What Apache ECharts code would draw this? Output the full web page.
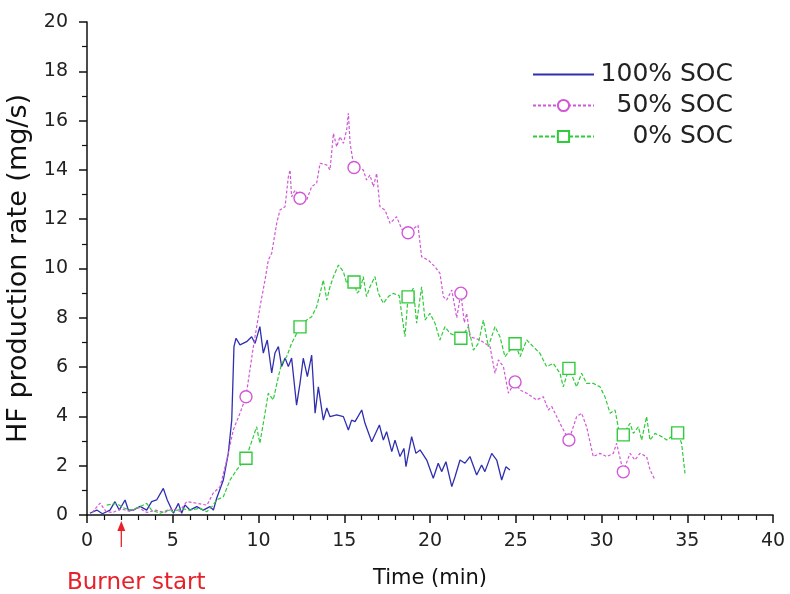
<!DOCTYPE html>
<html>
<head>
<meta charset="utf-8">
<script src="https://cdn.jsdelivr.net/npm/echarts@6/dist/echarts.min.js"></script>
<style>
html, body { margin: 0; padding: 0; background: #fff; }
#chart { width: 790px; height: 594px; }
</style>
</head>
<body>
<div id="chart"></div>
<script>
// 100% SOC (solid blue)
var t100 = [0.17,0.57,0.9,1.34,1.63,1.88,2.22,2.41,2.7,3.1,3.48,3.77,4.06,4.45,4.68,5.04,5.33,5.52,5.71,6.0,
  6.4,6.78,7.17,7.37,7.56,7.95,8.24,8.44,8.57,8.69,8.92,9.31,9.6,9.8,10.08,10.28,10.51,10.77,10.96,11.16,
  11.35,11.55,11.74,11.93,12.22,12.42,12.61,12.85,13.1,13.3,13.49,13.78,13.98,14.17,14.56,14.95,15.24,15.43,15.63,16.02,
  16.21,16.6,17.05,17.28,17.47,17.77,17.96,18.25,18.48,18.6,18.93,19.18,19.42,19.81,20.19,20.48,20.68,20.93,21.27,21.46,
  21.75,22.04,22.33,22.72,23.01,23.2,23.6,23.89,24.18,24.43,24.66];
var v100 = [0.07,0.2,0.05,0.2,0.54,0.2,0.61,0.2,0.2,0.35,0.2,0.54,0.61,1.08,0.61,0.07,0.47,0.07,0.41,0.2,
  0.34,0.2,0.34,0.2,0.68,1.42,2.5,3.85,6.83,7.17,6.9,7.03,7.23,6.96,7.64,6.57,7.1,5.76,6.57,6.83,
  6.02,6.37,6.02,6.37,4.46,5.34,6.36,5.61,6.49,4.13,5.2,3.85,4.34,3.99,4.06,3.99,3.45,3.85,3.79,4.26,
  3.72,2.97,3.65,3.04,3.38,2.57,3.04,2.37,2.7,1.96,3.18,2.5,2.64,2.23,1.49,2.1,1.76,2.16,1.15,1.55,
  2.23,2.1,2.37,1.62,2.03,1.76,2.5,2.23,1.42,1.96,1.83];

// 50% SOC (dashed magenta, circles)
var t50 = [0.3,0.76,1.1,1.5,2.0,2.5,3.0,3.5,4.0,4.5,5.0,5.4,5.81,6.2,6.6,7.0,7.35,7.76,8.15,8.53,
  8.92,9.27,9.7,10.09,10.38,10.57,10.77,11.06,11.25,11.55,11.74,11.84,11.93,12.13,12.42,12.81,13.1,13.39,13.59,13.98,
  14.17,14.37,14.56,14.75,14.95,15.14,15.24,15.34,15.57,16.11,16.3,16.5,16.7,16.89,17.08,17.38,17.67,18.05,18.35,18.72,
  19.3,19.51,19.9,20.29,20.58,20.78,20.97,21.27,21.56,21.8,22.0,22.14,22.33,22.92,23.5,23.79,23.99,24.28,24.57,24.96,
  25.25,25.64,26.22,26.61,26.9,27.1,27.39,27.68,28.1,28.55,28.84,29.13,29.52,29.91,30.3,30.69,30.88,31.27,31.66,31.95,
  32.24,32.63,32.83,33.12];
var v50 = [0.1,0.48,0.15,0.1,0.25,0.15,0.3,0.1,0.2,0.1,0.25,0.15,0.54,0.5,0.45,0.4,0.88,1.15,2.23,3.45,
  4.13,4.8,6.83,8.45,9.53,10.34,10.62,11.83,12.37,12.51,13.72,14.0,12.91,13.18,12.85,12.78,13.32,13.46,14.27,14.2,
  14.0,15.48,14.94,15.35,15.08,15.62,16.3,15.08,14.1,14.0,13.59,13.79,13.32,13.86,12.51,12.37,11.83,12.1,11.6,11.45,
  11.76,10.48,10.34,10.07,9.8,8.86,8.72,9.13,8.0,9.0,7.8,8.18,7.23,7.1,6.83,5.75,6.29,6.02,4.94,5.4,
  5.07,4.94,4.67,4.8,4.26,4.4,3.99,3.58,3.04,3.99,4.13,3.58,2.37,2.5,2.37,2.5,2.91,1.75,2.5,2.23,
  2.5,2.37,1.83,1.42];
var marks50 = [9.27,12.42,15.57,18.72,21.8,24.96,28.1,31.27];

// 0% SOC (dashed green, squares)
var t0 = [1.15,1.73,2.1,2.5,2.9,3.48,3.77,4.26,4.7,5.04,5.5,6.0,6.59,6.98,7.3,7.56,7.95,8.34,8.73,9.27,
  9.7,9.89,10.08,10.38,10.57,10.86,11.16,11.35,11.64,11.93,12.42,12.81,13.1,13.39,13.59,13.78,13.98,14.17,14.37,14.66,
  14.95,15.14,15.34,15.57,15.75,15.92,16.11,16.3,16.5,16.79,16.99,17.28,17.57,17.86,18.2,18.54,18.72,19.03,19.22,19.51,
  19.71,20.0,20.29,20.58,20.87,21.17,21.8,22.24,22.53,22.82,23.11,23.4,23.79,24.08,24.37,24.96,25.25,25.64,26.02,26.41,
  26.8,27.19,27.58,27.77,28.1,28.55,28.84,29.13,29.52,29.91,30.2,30.5,30.79,31.08,31.27,31.66,31.86,32.15,32.34,32.63,
  32.83,33.12,33.51,33.8,34.09,34.44,34.67,34.87];
var v0 = [0.4,0.47,0.3,0.2,0.28,0.47,0.2,0.07,0.2,0.13,0.25,0.2,0.27,0.13,0.35,0.61,0.74,1.42,1.83,2.3,
  3.18,3.58,2.91,4.13,4.94,4.67,5.61,6.15,6.42,6.96,7.63,7.91,8.04,8.45,8.99,9.53,8.72,9.26,9.67,10.14,
  9.87,9.4,9.67,9.45,9.0,9.13,9.67,8.86,9.26,9.67,8.99,8.59,8.86,8.99,8.9,7.23,8.85,9.2,7.78,9.26,
  7.91,8.18,7.78,7.1,7.64,7.37,7.17,7.64,6.69,6.96,7.91,6.83,7.64,7.23,6.42,6.95,6.42,7.1,6.83,6.56,
  6.02,6.15,5.75,5.2,5.95,5.2,5.75,5.34,5.34,5.2,4.8,4.13,4.26,3.18,3.25,3.72,3.31,3.58,3.04,3.99,
  3.04,3.31,3.18,3.04,3.18,3.33,2.91,1.69];
var marks0 = [9.27,12.42,15.57,18.72,21.8,24.96,28.1,31.27,34.44];

var xTicks = [0, 40, 5];
var yTicks = [0, 20, 2];
var burnerTime = 2;

function build(ts, vs, marks) {
  var out = [];
  for (var i = 0; i < ts.length; i++) {
    var item = { value: [ts[i], vs[i]] };
    if (!marks || marks.indexOf(ts[i]) == -1) {
      item.symbol = 'none';
    }
    out.push(item);
  }
  return out;
}

// the original looks like Arial stretched sideways, DejaVu Sans is close in proportions
var FONT = 'DejaVu Sans';
var chart = echarts.init(document.getElementById('chart'), null, { renderer: 'canvas' });

var option = {
  animation: false,
  backgroundColor: '#fff',
  textStyle: { fontFamily: FONT },
  grid: { left: 87, right: 17, top: 22, bottom: 79, outerBoundsMode: 'none' },
  legend: {
    orient: 'vertical',
    left: 527,
    top: 57,
    itemWidth: 61,
    itemHeight: 14,
    itemGap: 6,
    data: [
      { name: '100% SOC', itemStyle: { opacity: 0 } },
      { name: '50% SOC' },
      { name: '0% SOC' }
    ],
    formatter: function (name) { return '{r|' + name + '}'; },
    textStyle: {
      fontFamily: FONT, fontSize: 25, color: '#222',
      rich: { r: { fontFamily: FONT, fontSize: 25, color: '#222', width: 134, align: 'right', lineHeight: 25 } }
    }
  },
  xAxis: {
    type: 'value',
    min: xTicks[0], max: xTicks[1], interval: xTicks[2],
    name: 'Time (min)',
    nameLocation: 'middle',
    nameGap: 53,
    nameTextStyle: { fontFamily: FONT, fontSize: 21, color: '#111' },
    axisLine: { show: true, lineStyle: { color: '#111', width: 1.5 } },
    axisTick: { show: true, length: 8, lineStyle: { color: '#111', width: 1.5 } },
    minorTick: { show: true, splitNumber: 5, length: 5, lineStyle: { color: '#111', width: 1.2 } },
    axisLabel: { fontFamily: FONT, fontSize: 19, color: '#222', margin: 17 },
    splitLine: { show: false }
  },
  yAxis: {
    type: 'value',
    min: yTicks[0], max: yTicks[1], interval: yTicks[2],
    name: 'HF production rate (mg/s)',
    nameLocation: 'middle',
    nameGap: 46,
    nameTextStyle: { fontFamily: FONT, fontSize: 27, color: '#111' },
    axisLine: { show: true, lineStyle: { color: '#111', width: 1.5 } },
    axisTick: { show: true, length: 8, lineStyle: { color: '#111', width: 1.5 } },
    minorTick: { show: true, splitNumber: 2, length: 5, lineStyle: { color: '#111', width: 1.2 } },
    axisLabel: { fontFamily: FONT, fontSize: 19, color: '#222', margin: 19 },
    splitLine: { show: false }
  },
  series: [
    {
      name: '100% SOC',
      type: 'line',
      symbol: 'none',
      data: build(t100, v100, null),
      lineStyle: { color: '#2f2fb0', width: 1.3 },
      itemStyle: { color: '#2f2fb0' }
    },
    {
      name: '50% SOC',
      type: 'line',
      symbol: 'circle',
      symbolSize: 12,
      showAllSymbol: true,
      data: build(t50, v50, marks50),
      lineStyle: { color: '#d257d6', width: 1.2, type: [3, 2] },
      itemStyle: { color: '#ffffff', borderColor: '#d257d6', borderWidth: 1.4 }
    },
    {
      name: '0% SOC',
      type: 'line',
      symbol: 'rect',
      symbolSize: 12,
      showAllSymbol: true,
      data: build(t0, v0, marks0),
      lineStyle: { color: '#2fcc3a', width: 1.2, type: [4, 2] },
      itemStyle: { color: '#ffffff', borderColor: '#2fcc3a', borderWidth: 1.4 }
    }
  ]
};
chart.setOption(option);

// "Burner start" note under the x axis
var p = chart.convertToPixel({ gridIndex: 0 }, [burnerTime, 0]);
chart.setOption({
  graphic: [
    {
      type: 'line',
      shape: { x1: p[0], y1: p[1] + 32, x2: p[0], y2: p[1] + 14 },
      style: { stroke: '#e8202a', lineWidth: 1.3 }
    },
    {
      type: 'polygon',
      shape: { points: [[p[0], p[1] + 6], [p[0] - 4, p[1] + 16], [p[0] + 4, p[1] + 16]] },
      style: { fill: '#e8202a' }
    },
    {
      type: 'text',
      left: 67,
      top: 572,
      style: { text: 'Burner start', font: '23px "DejaVu Sans"', fill: '#e8202a' }
    }
  ]
});
</script>
</body>
</html>
